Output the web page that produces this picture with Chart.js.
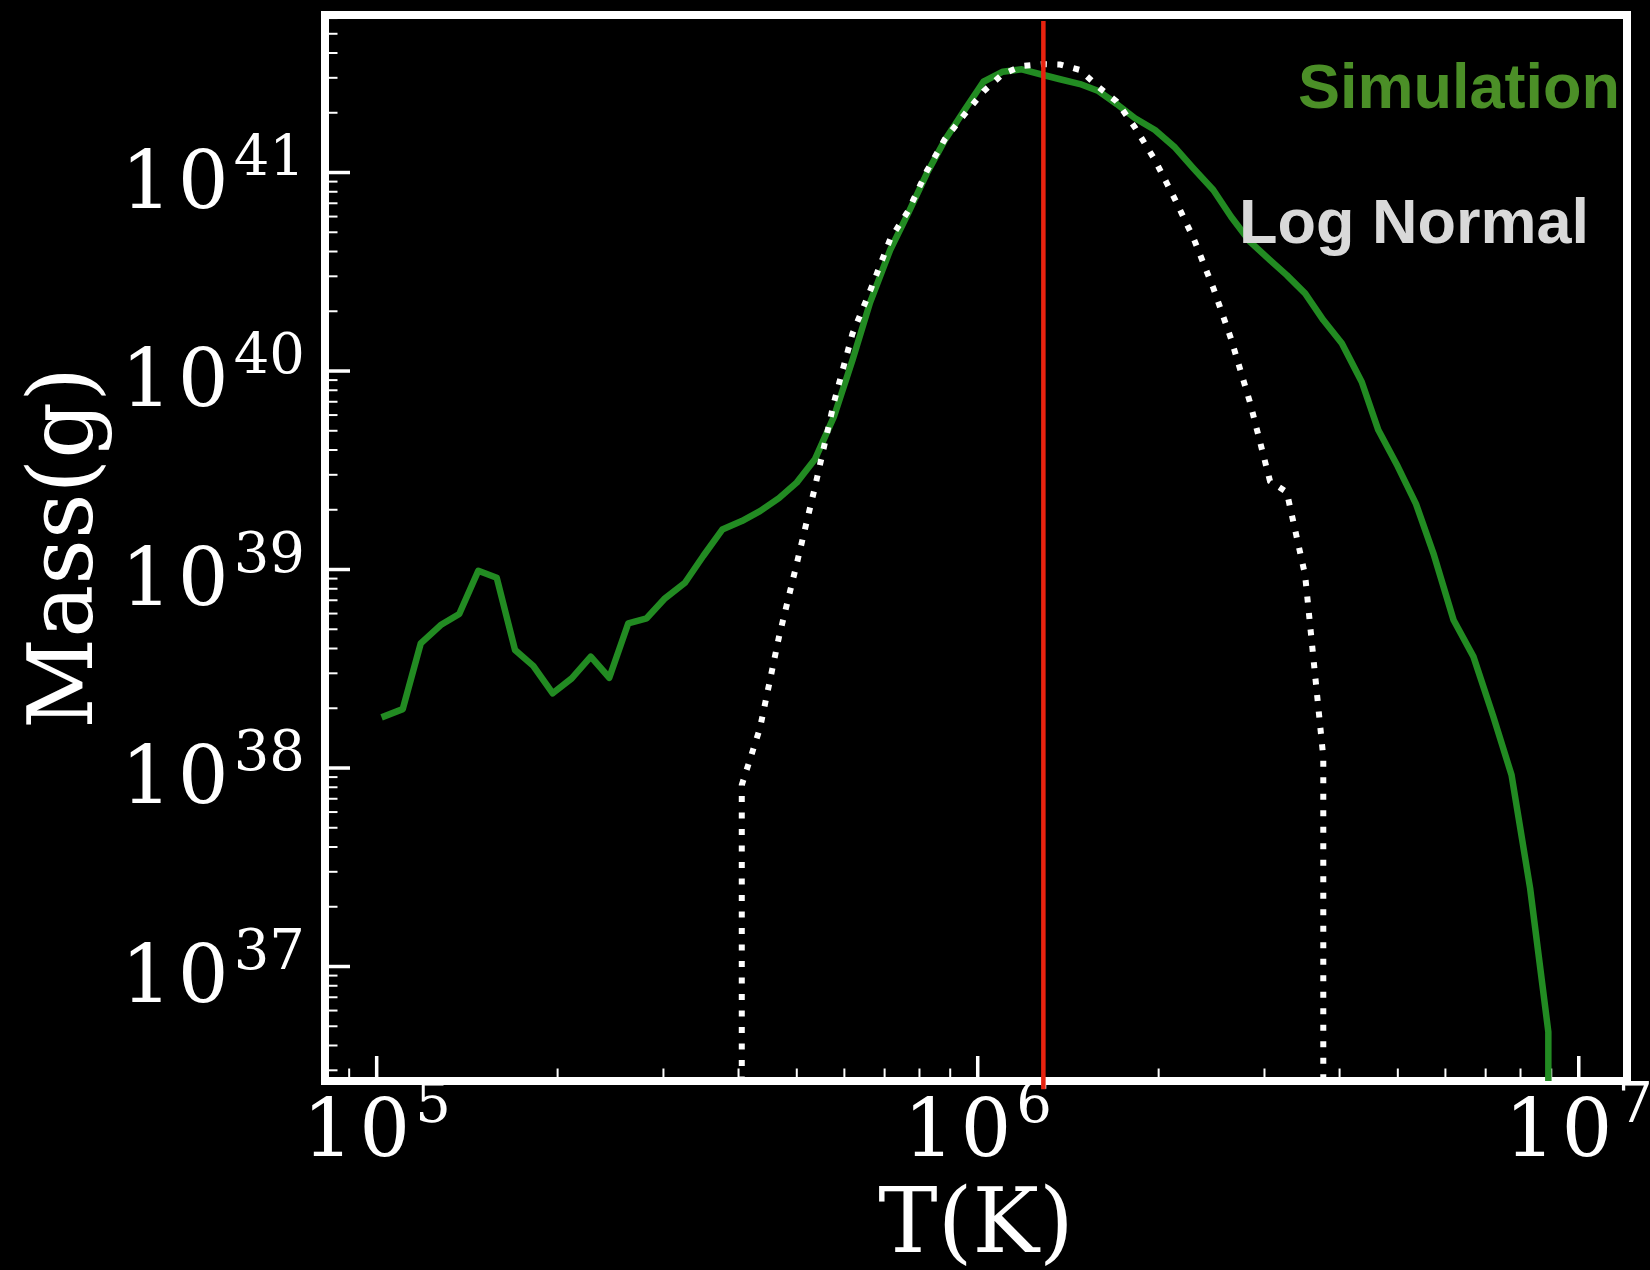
<!DOCTYPE html>
<html>
<head>
<meta charset="utf-8">
<script src="https://cdn.jsdelivr.net/npm/chart.js@4.4.1/dist/chart.umd.min.js"></script>
<style>
    html, body { margin: 0; padding: 0; background: #000; }
    #wrap { width: 1650px; height: 1270px; }
</style>
</head>
<body>
<div id="wrap"><canvas id="massChart"></canvas></div>
<script>
// Simulation (green solid line)
var simT = [1.019e5, 1.105e5, 1.184e5, 1.278e5, 1.372e5, 1.476e5, 1.584e5, 1.699e5, 1.822e5, 1.963e5,
    2.111e5, 2.271e5, 2.438e5, 2.622e5, 2.813e5, 3.018e5, 3.258e5, 3.494e5, 3.758e5, 4.05e5,
    4.343e5, 4.67e5, 4.998e5, 5.36e5, 5.77e5, 6.19e5, 6.62e5, 7.15e5, 7.66e5, 8.23e5,
    8.82e5, 9.49e5, 1.022e6, 1.101e6, 1.184e6, 1.286e6, 1.371e6, 1.48e6, 1.588e6, 1.703e6,
    1.827e6, 1.972e6, 2.13e6, 2.285e6, 2.466e6, 2.64e6, 2.84e6, 3.064e6, 3.267e6, 3.505e6,
    3.758e6, 4.034e6, 4.355e6, 4.64e6, 4.995e6, 5.36e6, 5.73e6, 6.19e6, 6.68e6, 7.21e6,
    7.73e6, 8.30e6, 8.90e6, 8.90e6];
var simMass = [1.80e38, 1.98e38, 4.25e38, 5.25e38, 5.97e38, 9.86e38, 9.09e38, 3.93e38, 3.27e38, 2.38e38,
    2.83e38, 3.64e38, 2.85e38, 5.36e38, 5.68e38, 7.16e38, 8.58e38, 1.17e39, 1.59e39, 1.755e39,
    1.97e39, 2.29e39, 2.74e39, 3.59e39, 5.93e39, 1.136e40, 2.21e40, 4.07e40, 6.23e40, 9.91e40,
    1.458e41, 2.048e41, 2.866e41, 3.22e41, 3.31e41, 3.10e41, 2.95e41, 2.79e41, 2.574e41, 2.214e41,
    1.876e41, 1.637e41, 1.336e41, 1.05e41, 8.16e40, 5.99e40, 4.47e40, 3.62e40, 3.04e40, 2.46e40,
    1.806e40, 1.379e40, 8.80e39, 5.04e39, 3.32e39, 2.14e39, 1.207e39, 5.57e38, 3.64e38, 1.813e38,
    9.22e37, 2.48e37, 4.69e36, 1e36];

// Log normal fit (white dotted line)
var lnT = [4.05e5, 4.05e5, 4.343e5, 4.67e5, 4.998e5, 5.36e5, 5.77e5, 6.19e5, 6.62e5, 7.15e5,
    7.66e5, 8.23e5, 8.82e5, 9.49e5, 1.022e6, 1.101e6, 1.184e6, 1.286e6, 1.371e6, 1.48e6,
    1.588e6, 1.703e6, 1.827e6, 1.972e6, 2.13e6, 2.285e6, 2.466e6, 2.64e6, 2.84e6, 3.064e6,
    3.267e6, 3.505e6, 3.758e6, 3.758e6];
var lnMass = [1e36, 8.21e37, 1.591e38, 4.57e38, 1.066e39, 2.60e39, 7.02e39, 1.545e40, 2.53e40, 4.61e40,
    6.40e40, 1.018e41, 1.475e41, 1.949e41, 2.559e41, 3.135e41, 3.44e41, 3.52e41, 3.50e41, 3.284e41,
    2.696e41, 2.279e41, 1.685e41, 1.156e41, 7.31e40, 4.68e40, 2.62e40, 1.45e40, 6.90e39, 2.79e39,
    2.457e39, 9.38e38, 1.136e38, 1e36];

// peak temperature marker (red vertical line)
var peakT = [1.286e6, 1.286e6];
var peakMass = [5.8e41, 2.41e36];

// axes
var xMin = 8.204e4, xMax = 1.203e7;
var yMin = 2.65e36, yMax = 6.217e41;
var xMajorTicks = [1e5, 1e6, 1e7];
var xTickExps = ['5', '6', '7'];
var yMajorTicks = [1e37, 1e38, 1e39, 1e40, 1e41];
var yTickExps = ['37', '38', '39', '40', '41'];

function points(xs, ys) {
    return xs.map(function(v, i) { return {x: v, y: ys[i]}; });
}

function minorTicks(min, max) {
    var out = [];
    for (var e = Math.floor(Math.log10(min)); e <= Math.ceil(Math.log10(max)); e++) {
        for (var k = 2; k <= 9; k++) {
            var v = k * Math.pow(10, e);
            if (v > min && v < max) out.push(v);
        }
    }
    return out;
}

function seg(ctx, x1, y1, x2, y2) {
    ctx.beginPath();
    ctx.moveTo(x1, y1);
    ctx.lineTo(x2, y2);
    ctx.stroke();
}

var serif = '"DejaVu Serif", serif';
var digitGap = 6;

// "10" with a little space between the digits, like the mathtext labels
function drawTen(ctx, x, y) {
    ctx.font = '80px ' + serif;
    var w1 = ctx.measureText('1').width;
    ctx.fillText('1', x, y);
    ctx.fillText('0', x + w1 + digitGap, y);
}

function tenWidth(ctx) {
    ctx.font = '80px ' + serif;
    return ctx.measureText('10').width + digitGap;
}

var framePlugin = {
    id: 'frame',
    beforeDatasetsDraw: function(chart) {
        var ctx = chart.ctx, a = chart.chartArea;
        var xs = chart.scales.x, ys = chart.scales.y;
        ctx.save();
        ctx.strokeStyle = '#fff';
        ctx.fillStyle = '#fff';

        // inward minor ticks
        ctx.lineWidth = 2;
        minorTicks(xMin, xMax).forEach(function(v) {
            var px = xs.getPixelForValue(v);
            seg(ctx, px, a.bottom, px, a.bottom - 12.5);
        });
        minorTicks(yMin, yMax).forEach(function(v) {
            var py = ys.getPixelForValue(v);
            seg(ctx, a.left, py, a.left + 12.5, py);
        });

        // inward major ticks
        ctx.lineWidth = 3.5;
        xMajorTicks.forEach(function(v) {
            var px = xs.getPixelForValue(v);
            seg(ctx, px, a.bottom, px, a.bottom - 25);
        });
        yMajorTicks.forEach(function(v) {
            var py = ys.getPixelForValue(v);
            seg(ctx, a.left, py, a.left + 25, py);
        });

        // frame
        ctx.lineWidth = 8;
        ctx.strokeRect(a.left, a.top, a.right - a.left, a.bottom - a.top);

        // tick labels: 10 with superscript exponent
        ctx.textAlign = 'left';
        ctx.textBaseline = 'alphabetic';
        var w10 = tenWidth(ctx);

        xMajorTicks.forEach(function(v, i) {
            var px = xs.getPixelForValue(v);
            ctx.font = '56px ' + serif;
            var we = ctx.measureText(xTickExps[i]).width;
            var start = px - (w10 + 5 + we) / 2;
            drawTen(ctx, start, a.bottom + 75);
            ctx.font = '56px ' + serif;
            ctx.fillText(xTickExps[i], start + w10 + 5, a.bottom + 41);
        });

        yMajorTicks.forEach(function(v, i) {
            var py = ys.getPixelForValue(v);
            var right = a.left - 20;
            ctx.font = '56px ' + serif;
            var we = ctx.measureText(yTickExps[i]).width;
            ctx.fillText(yTickExps[i], right - we, py + 2);
            drawTen(ctx, right - we - 5 - w10, py + 35);
        });

        // axis titles
        ctx.font = '89px ' + serif;
        ctx.textAlign = 'center';
        ctx.fillText('T(K)', (a.left + a.right) / 2, 1252);
        ctx.translate(92, (a.top + a.bottom) / 2);
        ctx.rotate(-Math.PI / 2);
        ctx.fillText('Mass(g)', 0, 0);
        ctx.restore();
    },
    afterDatasetsDraw: function(chart) {
        var ctx = chart.ctx;
        ctx.save();
        ctx.textAlign = 'left';
        ctx.textBaseline = 'alphabetic';
        ctx.font = 'bold 63px "Liberation Sans", Arial, sans-serif';
        ctx.fillStyle = '#4b8f27';
        ctx.fillText('Simulation', 1298, 108);
        ctx.fillStyle = '#d9d9d9';
        ctx.fillText('Log Normal', 1239, 243);
        ctx.restore();
    }
};

document.addEventListener('DOMContentLoaded', function() {
    var ctx = document.getElementById('massChart').getContext('2d');
    var massChart = new Chart(ctx, {
        type: 'line',
        data: {
            datasets: [{
                label: 'Peak',
                data: points(peakT, peakMass),
                borderColor: '#e8230f',
                borderWidth: 4.5,
                clip: false
            }, {
                label: 'Log Normal',
                data: points(lnT, lnMass),
                borderColor: '#ffffff',
                borderWidth: 6,
                borderDash: [6, 10.5],
                borderCapStyle: 'butt'
            }, {
                label: 'Simulation',
                data: points(simT, simMass),
                borderColor: '#228b22',
                borderWidth: 6.5,
                borderJoinStyle: 'round'
            }]
        },
        options: {
            responsive: true,
            maintainAspectRatio: false,
            animation: false,
            layout: { padding: { left: 325, top: 15, right: 23, bottom: 189 } },
            elements: { point: { radius: 0 }, line: { tension: 0 } },
            plugins: { legend: { display: false }, tooltip: { enabled: false } },
            scales: {
                x: { type: 'logarithmic', min: xMin, max: xMax, bounds: 'data', display: false },
                y: { type: 'logarithmic', min: yMin, max: yMax, bounds: 'data', display: false }
            }
        },
        plugins: [framePlugin]
    });
});
</script>
</body>
</html>
